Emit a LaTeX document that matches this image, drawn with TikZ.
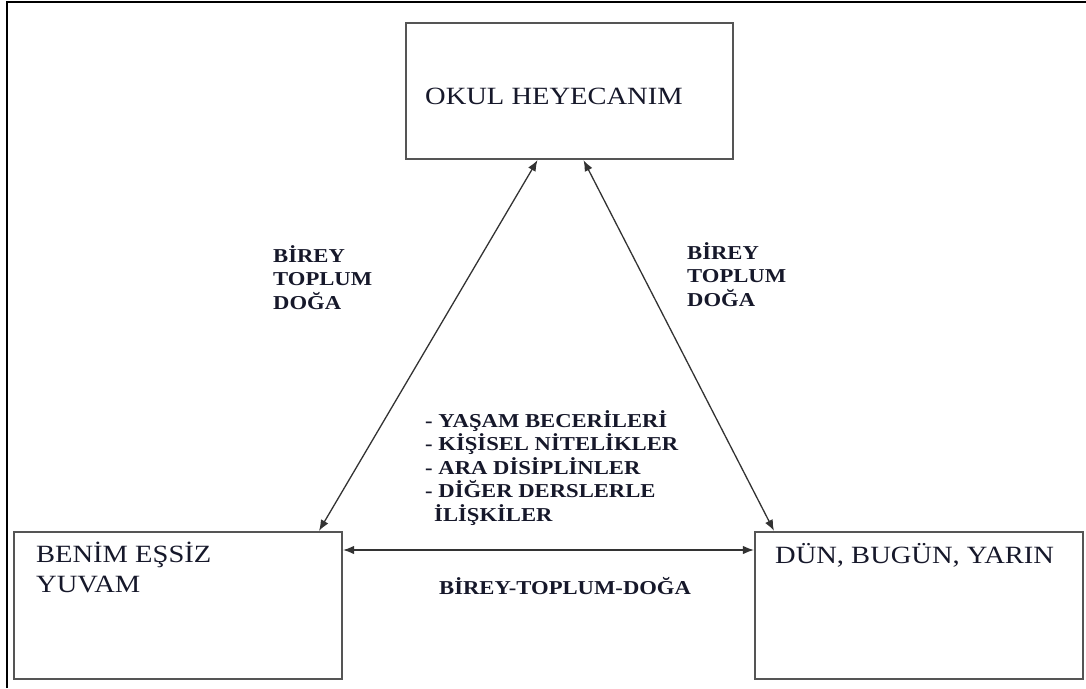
\documentclass[tikz,border=0pt]{standalone}
\usepackage{fontspec}
\usetikzlibrary{arrows.meta}
\setmainfont{Liberation Serif}
\newfontfamily\widefont[FakeStretch=1.15]{Liberation Serif}
\definecolor{inkc}{HTML}{16182A}
\definecolor{boxline}{HTML}{555555}
\definecolor{arrowline}{HTML}{333333}
\tikzset{
  x=1pt, y=-1pt,
  panel/.style={draw=boxline, line width=2.2pt, inner sep=0pt, rectangle},
  % multi-line nodes: base anchor sits on the last line's baseline
  title/.style={anchor=base west, inner sep=0pt, text=inkc, align=left,
    font=\widefont\fontsize{24.8}{30}\selectfont},
  tag/.style={anchor=base west, inner sep=0pt, text=inkc, align=left,
    font=\widefont\bfseries\fontsize{19.7}{23.5}\selectfont},
  link/.style={draw=arrowline, line width=1.3pt,
    {Latex[length=11pt,width=8.5pt]}-{Latex[length=11pt,width=8.5pt]}},
}
\begin{document}
\begin{tikzpicture}
\useasboundingbox (0,0) rectangle (1086,688);
% page frame: left and top rules
\draw[line width=2pt, black] (7,688) -- (7,1.5) -- (1086,1.5);

% the three boxes
\node[panel, minimum width=327pt, minimum height=136pt] (okul) at (569.5,91) {};
\node[panel, minimum width=328pt, minimum height=147pt] (yuva) at (178,605.5) {};
\node[panel, minimum width=328pt, minimum height=147pt] (dun) at (919,605.5) {};

% box titles
\node[title] (okult) at (425,104) {OKUL HEYECANIM};
\node[title] (yuvat) at (36,592) {BENİM EŞSİZ\\YUVAM};
\node[title] (dunt) at (775,563) {DÜN, BUGÜN, YARIN};

% connectors
\draw[link] ([xshift=-32pt]okul.south) -- ([xshift=141pt]yuva.north);
\draw[link] ([xshift=14pt]okul.south) -- ([xshift=-145pt]dun.north);
\draw[link] ([yshift=55.5pt]yuva.east) -- ([yshift=55.5pt]dun.west);

% connector labels
\node[tag] (lbl1) at (273,309) {BİREY\\TOPLUM\\DOĞA};
\node[tag] (lbl2) at (687,306) {BİREY\\TOPLUM\\DOĞA};
\node[tag] (lbl3) at (425,521) {- YAŞAM BECERİLERİ\\- KİŞİSEL NİTELİKLER\\- ARA DİSİPLİNLER\\- DİĞER DERSLERLE\\\hspace*{9pt}İLİŞKİLER};
\node[tag] (lbl4) at (439,594) {BİREY-TOPLUM-DOĞA};
\end{tikzpicture}
\end{document}
